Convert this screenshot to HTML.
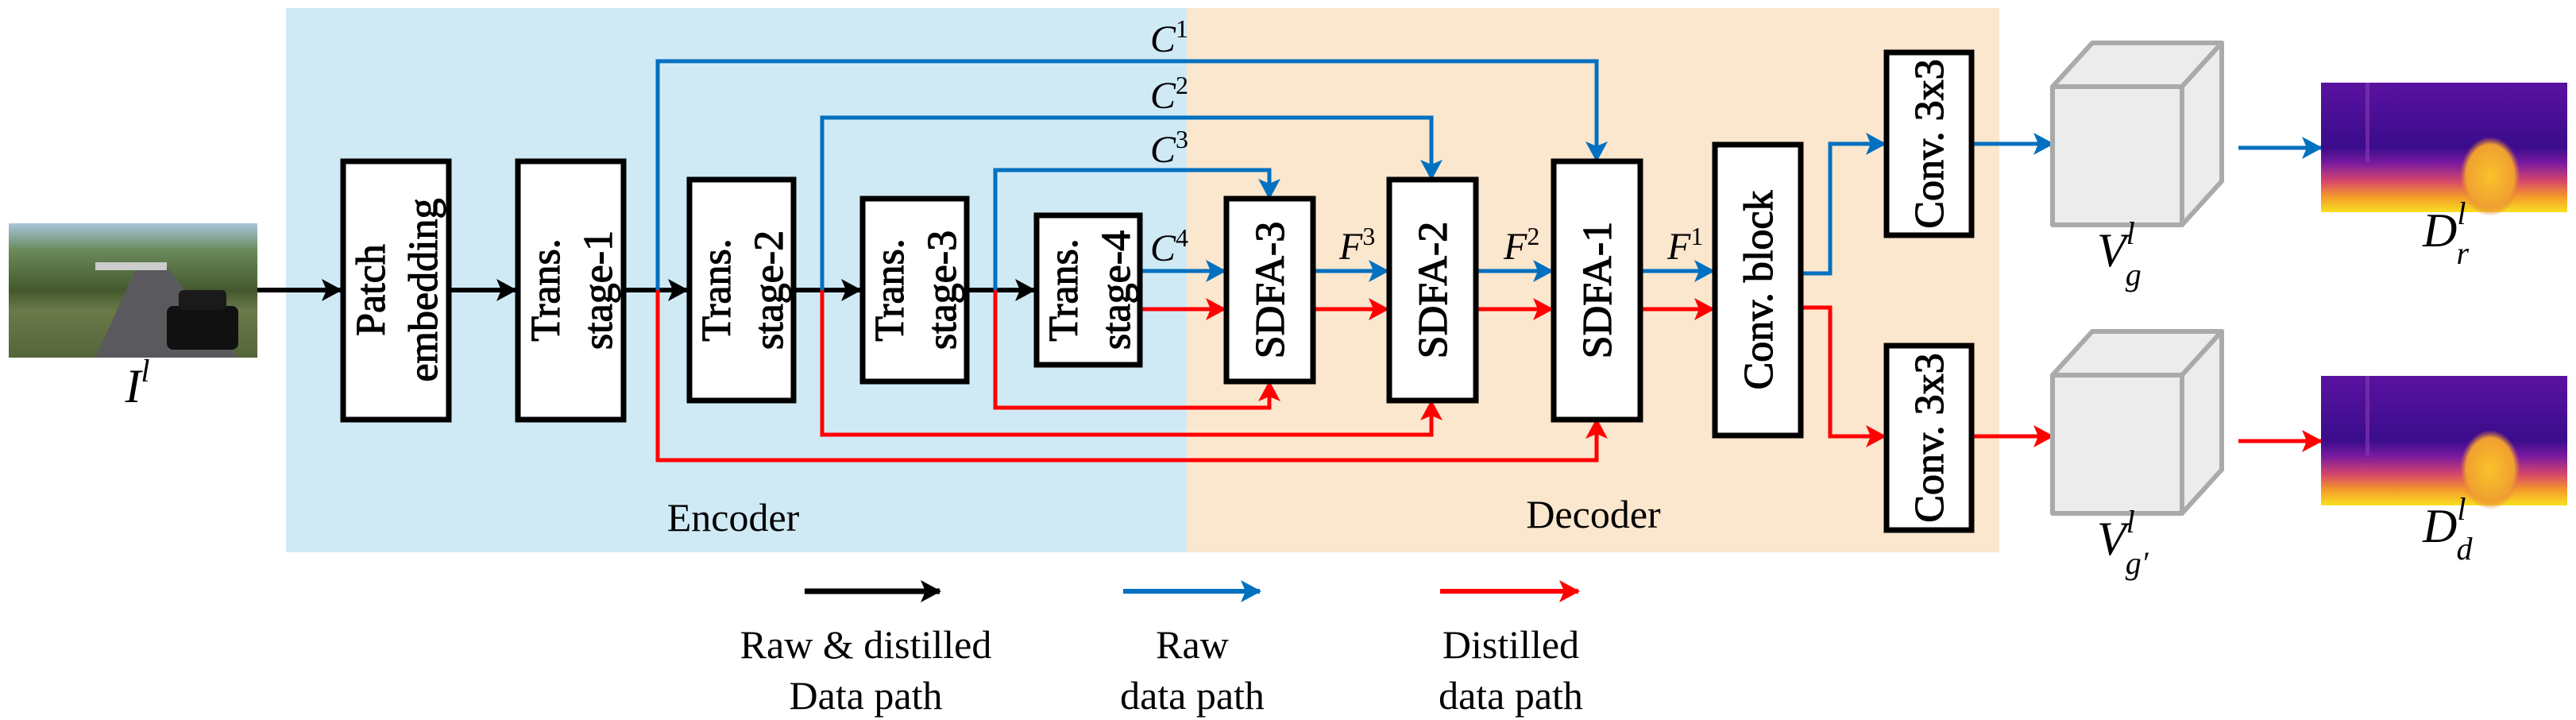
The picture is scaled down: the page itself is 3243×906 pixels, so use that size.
<!DOCTYPE html>
<html><head><meta charset="utf-8"><style>html,body{margin:0;padding:0;background:#fff}svg{display:block}</style></head>
<body>
<svg width="3243" height="906" viewBox="0 0 3243 906" xmlns="http://www.w3.org/2000/svg">
<defs>
<marker id="ak" markerUnits="userSpaceOnUse" markerWidth="26" markerHeight="28" refX="24" refY="14" orient="auto"><path d="M0,0 L26,14 L0,28 L6,14 Z" fill="#000"/></marker>
<marker id="ab" markerUnits="userSpaceOnUse" markerWidth="26" markerHeight="28" refX="24" refY="14" orient="auto"><path d="M0,0 L26,14 L0,28 L6,14 Z" fill="#0070C0"/></marker>
<marker id="ar" markerUnits="userSpaceOnUse" markerWidth="26" markerHeight="28" refX="24" refY="14" orient="auto"><path d="M0,0 L26,14 L0,28 L6,14 Z" fill="#FF0000"/></marker>
<linearGradient id="depth" x1="0" y1="0" x2="0" y2="1">
<stop offset="0" stop-color="#5a12a0"/><stop offset="0.5" stop-color="#3a0c8c"/><stop offset="0.62" stop-color="#7a1aa0"/><stop offset="0.76" stop-color="#d6466a"/><stop offset="0.88" stop-color="#f59a2a"/><stop offset="1" stop-color="#f8e020"/></linearGradient>
<radialGradient id="blob" cx="0.5" cy="0.5" r="0.5"><stop offset="0" stop-color="#f9c22a"/><stop offset="0.8" stop-color="#f0a030"/><stop offset="1" stop-color="#e07a3a" stop-opacity="0"/></radialGradient>
<linearGradient id="street" x1="0" y1="0" x2="0" y2="1">
<stop offset="0" stop-color="#a9c6dc"/><stop offset="0.2" stop-color="#6a8a5a"/><stop offset="0.5" stop-color="#44582e"/><stop offset="0.65" stop-color="#6a7a4a"/><stop offset="1" stop-color="#55653a"/></linearGradient>
</defs>

<rect x="360" y="10" width="1134" height="685" fill="#D0EAF5"/>
<rect x="1494" y="10" width="1023" height="685" fill="#FBE6CE"/>

<rect x="11" y="281" width="313" height="169" fill="url(#street)"/>
<polygon points="120,450 175,330 205,330 300,450" fill="#5a5a5e"/>
<rect x="210" y="385" width="90" height="55" rx="8" fill="#111"/>
<rect x="225" y="365" width="60" height="25" rx="6" fill="#1a1a1a"/>
<rect x="120" y="330" width="90" height="10" fill="#ccc"/>
<text x="173" y="506" font-family="'Liberation Serif', serif" font-style="italic" font-size="60" text-anchor="middle">I<tspan font-size="40" dy="-26">l</tspan></text>

<g stroke="#000" stroke-width="6" fill="none">
<line x1="324" y1="365" x2="429" y2="365" marker-end="url(#ak)"/>
<line x1="568" y1="365" x2="649" y2="365" marker-end="url(#ak)"/>
<line x1="787" y1="365" x2="865" y2="365" marker-end="url(#ak)"/>
<line x1="1002" y1="365" x2="1083" y2="365" marker-end="url(#ak)"/>
<line x1="1220" y1="365" x2="1302" y2="365" marker-end="url(#ak)"/>
</g>

<g stroke="#0070C0" stroke-width="5" fill="none">
<polyline points="828,365 828,77 2010,77 2010,202" marker-end="url(#ab)"/>
<polyline points="1035,365 1035,148 1802,148 1802,225" marker-end="url(#ab)"/>
<polyline points="1253,365 1253,214 1598,214 1598,249" marker-end="url(#ab)"/>
<line x1="1438" y1="341" x2="1542" y2="341" marker-end="url(#ab)"/>
<line x1="1655" y1="341" x2="1747" y2="341" marker-end="url(#ab)"/>
<line x1="1860" y1="341" x2="1954" y2="341" marker-end="url(#ab)"/>
<line x1="2067" y1="341" x2="2157" y2="341" marker-end="url(#ab)"/>
<polyline points="2269,344 2304,344 2304,181 2373,181" marker-end="url(#ab)"/>
<line x1="2484" y1="181" x2="2584" y2="181" marker-end="url(#ab)"/>
<line x1="2818" y1="186" x2="2922" y2="186" marker-end="url(#ab)"/>
<line x1="1414" y1="744" x2="1586" y2="744" stroke-width="6" marker-end="url(#ab)"/>
</g>

<g stroke="#FF0000" stroke-width="5" fill="none">
<polyline points="828,365 828,579 2010,579 2010,528" marker-end="url(#ar)"/>
<polyline points="1035,365 1035,547 1802,547 1802,505" marker-end="url(#ar)"/>
<polyline points="1253,365 1253,513 1598,513 1598,481" marker-end="url(#ar)"/>
<line x1="1438" y1="389" x2="1542" y2="389" marker-end="url(#ar)"/>
<line x1="1655" y1="389" x2="1747" y2="389" marker-end="url(#ar)"/>
<line x1="1860" y1="389" x2="1954" y2="389" marker-end="url(#ar)"/>
<line x1="2067" y1="389" x2="2157" y2="389" marker-end="url(#ar)"/>
<polyline points="2269,387 2304,387 2304,549 2373,549" marker-end="url(#ar)"/>
<line x1="2484" y1="549" x2="2584" y2="549" marker-end="url(#ar)"/>
<line x1="2818" y1="555" x2="2922" y2="555" marker-end="url(#ar)"/>
<line x1="1813" y1="744" x2="1987" y2="744" stroke-width="6" marker-end="url(#ar)"/>
</g>
<line x1="1013" y1="744" x2="1183" y2="744" stroke="#000" stroke-width="7" marker-end="url(#ak)"/>

<g fill="#fff" stroke="#000" stroke-width="7">
<rect x="432" y="203" width="133" height="325"/>
<rect x="652" y="203" width="133" height="325"/>
<rect x="868" y="226" width="131" height="278"/>
<rect x="1086" y="250" width="131" height="230"/>
<rect x="1305" y="271" width="130" height="188"/>
<rect x="1544" y="250" width="109" height="230"/>
<rect x="1749" y="226" width="109" height="278"/>
<rect x="1956" y="203" width="109" height="325"/>
<rect x="2159" y="182" width="108" height="366"/>
<rect x="2375" y="66" width="107" height="230"/>
<rect x="2375" y="435" width="107" height="232"/>
</g>

<g font-family="'Liberation Serif', serif" font-size="52" text-anchor="middle" fill="#000" stroke="#000" stroke-width="1.2">
<text transform="translate(498,365) rotate(-90)"><tspan x="0" y="-14">Patch</tspan><tspan x="0" y="52">embedding</tspan></text>
<text transform="translate(718,365) rotate(-90)"><tspan x="0" y="-14">Trans.</tspan><tspan x="0" y="52">stage-1</tspan></text>
<text transform="translate(933,365) rotate(-90)"><tspan x="0" y="-14">Trans.</tspan><tspan x="0" y="52">stage-2</tspan></text>
<text transform="translate(1151,365) rotate(-90)"><tspan x="0" y="-14">Trans.</tspan><tspan x="0" y="52">stage-3</tspan></text>
<text transform="translate(1370,365) rotate(-90)"><tspan x="0" y="-14">Trans.</tspan><tspan x="0" y="52">stage-4</tspan></text>
<text transform="translate(1598,365) rotate(-90)" y="18">SDFA-3</text>
<text transform="translate(1803,365) rotate(-90)" y="18">SDFA-2</text>
<text transform="translate(2010,365) rotate(-90)" y="18">SDFA-1</text>
<text transform="translate(2213,365) rotate(-90)" y="18">Conv. block</text>
<text transform="translate(2428,181) rotate(-90)" y="18">Conv. 3x3</text>
<text transform="translate(2428,551) rotate(-90)" y="18">Conv. 3x3</text>
</g>

<g font-family="'Liberation Serif', serif" font-style="italic" font-size="48" fill="#000">
<text x="1448" y="65">C<tspan font-size="32" font-style="normal" dy="-18">1</tspan></text>
<text x="1448" y="136">C<tspan font-size="32" font-style="normal" dy="-18">2</tspan></text>
<text x="1448" y="204">C<tspan font-size="32" font-style="normal" dy="-18">3</tspan></text>
<text x="1448" y="328">C<tspan font-size="32" font-style="normal" dy="-18">4</tspan></text>
<text x="1686" y="326">F<tspan font-size="32" font-style="normal" dy="-18">3</tspan></text>
<text x="1893" y="326">F<tspan font-size="32" font-style="normal" dy="-18">2</tspan></text>
<text x="2099" y="326">F<tspan font-size="32" font-style="normal" dy="-18">1</tspan></text>
</g>

<g fill="#ececec" stroke="#aaa" stroke-width="6" stroke-linejoin="round">
<polygon points="2584,109 2634,54 2797,54 2747,109"/>
<polygon points="2747,109 2797,54 2797,228 2747,283"/>
<rect x="2584" y="109" width="163" height="174"/>
<polygon points="2584,472 2634,417 2797,417 2747,472"/>
<polygon points="2747,472 2797,417 2797,591 2747,646"/>
<rect x="2584" y="472" width="163" height="174"/>
</g>

<g>
<rect x="2922" y="104" width="310" height="163" fill="url(#depth)"/>
<ellipse cx="3135" cy="222" rx="38" ry="50" fill="url(#blob)"/>
<rect x="2978" y="104" width="5" height="100" fill="#8a3ab0" opacity="0.6"/>
<rect x="2922" y="473" width="310" height="163" fill="url(#depth)"/>
<ellipse cx="3135" cy="591" rx="38" ry="50" fill="url(#blob)"/>
<rect x="2978" y="473" width="5" height="100" fill="#8a3ab0" opacity="0.6"/>
</g>

<g font-family="'Liberation Serif', serif" font-style="italic" font-size="60" fill="#000">
<text x="2640" y="335">V<tspan font-size="40" dy="-28">l</tspan><tspan font-size="40" dx="-12" dy="52">g</tspan></text>
<text x="2640" y="698">V<tspan font-size="40" dy="-28">l</tspan><tspan font-size="40" dx="-12" dy="52">g′</tspan></text>
<text x="3050" y="310">D<tspan font-size="40" dy="-28">l</tspan><tspan font-size="40" dx="-12" dy="50">r</tspan></text>
<text x="3050" y="682">D<tspan font-size="40" dy="-28">l</tspan><tspan font-size="40" dx="-12" dy="50">d</tspan></text>
</g>

<g font-family="'Liberation Serif', serif" font-size="50" text-anchor="middle" fill="#000">
<text x="923" y="668">Encoder</text>
<text x="2006" y="664">Decoder</text>
<text x="1090" y="828">Raw &amp; distilled</text>
<text x="1090" y="892">Data path</text>
<text x="1501" y="828">Raw</text>
<text x="1501" y="892">data path</text>
<text x="1902" y="828">Distilled</text>
<text x="1902" y="892">data path</text>
</g>
</svg>
</body></html>
